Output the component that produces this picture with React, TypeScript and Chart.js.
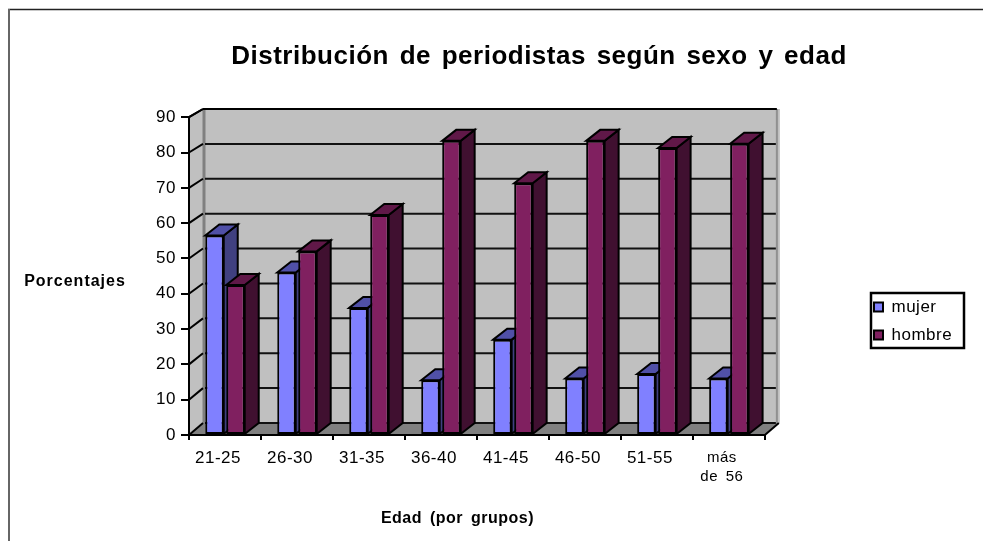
import React, { useEffect, useRef } from "react";
import { Chart, registerables } from "chart.js";

Chart.register(...registerables);

const categories: (string | string[])[] = ["21-25", "26-30", "31-35", "36-40", "41-45", "46-50", "51-55", ["más", "de 56"]];
const mujer = [56.5, 46, 36, 15.5, 27, 16, 17.3, 16];
const hombre = [42.5, 52, 62.3, 83.3, 71.3, 83.3, 81.3, 82.5];
const yTicks = [0, 10, 20, 30, 40, 50, 60, 70, 80, 90];
const titleText = "Distribución de periodistas según sexo y edad";
const xTitleText = "Edad (por grupos)";
const yTitleText = "Porcentajes";

const FONT = "'Liberation Sans', Arial, sans-serif";
const W = 983;
const H = 541;
const WALL_DX = 14;
const BAR_DX = 14;
const BAR_DY = 11;

const faces = [
  { top: "#5050A8", side: "#404080" },
  { top: "#601848", side: "#401030" },
];

function poly(ctx: CanvasRenderingContext2D, pts: number[][], fill?: string, stroke?: string, lw = 2) {
  ctx.beginPath();
  pts.forEach((p, i) => (i ? ctx.lineTo(p[0], p[1]) : ctx.moveTo(p[0], p[1])));
  ctx.closePath();
  if (fill) {
    ctx.fillStyle = fill;
    ctx.fill();
  }
  if (stroke) {
    ctx.strokeStyle = stroke;
    ctx.lineWidth = lw;
    ctx.lineJoin = "miter";
    ctx.stroke();
  }
}

function line(ctx: CanvasRenderingContext2D, x1: number, y1: number, x2: number, y2: number, c: string, lw: number) {
  ctx.beginPath();
  ctx.moveTo(x1, y1);
  ctx.lineTo(x2, y2);
  ctx.strokeStyle = c;
  ctx.lineWidth = lw;
  ctx.stroke();
}

const chart3d = {
  id: "chart3d",
  afterUpdate(chart: any) {
    const lg = chart.legend;
    if (lg) {
      lg.left = 863;
      lg.right = 964;
      lg.top = 287.5;
      lg.bottom = 400;
    }
    if (chart.titleBlock) {
      chart.titleBlock.left = 95;
      chart.titleBlock.right = 983;
    }
  },
  beforeDraw(chart: any) {
    const ctx: CanvasRenderingContext2D = chart.ctx;
    (ctx as any).letterSpacing = "0.5px";
    (ctx as any).wordSpacing = "3px";
    ctx.save();
    ctx.fillStyle = "#fff";
    ctx.fillRect(0, 0, W, H);
    line(ctx, 8, 9.5, 983, 9.5, "#222", 1.5);
    line(ctx, 9, 9, 9, H, "#666", 2);

    const { left, right, top, bottom } = chart.chartArea;
    const backY = (py: number) => 109 + ((py - top) * 314) / (bottom - top);
    const bl = left + WALL_DX;
    const br = right + WALL_DX - 2;

    poly(ctx, [[bl, 109], [br + 3, 109], [br + 3, backY(bottom)], [bl, backY(bottom)]], "#C0C0C0");
    line(ctx, br, 109, br, backY(bottom), "#909090", 2);
    poly(ctx, [[left, top], [bl, 109], [bl, backY(bottom)], [left, bottom]], "#C0C0C0");
    line(ctx, bl + 1, 110, bl + 1, backY(bottom), "#808080", 3);
    poly(ctx, [[left, bottom], [right, bottom], [right + WALL_DX, backY(bottom)], [bl, backY(bottom)]], "#808080");
    line(ctx, right, bottom, right + WALL_DX, backY(bottom), "#000", 2);
    line(ctx, left, top, bl, 109, "#000", 2);
    line(ctx, bl, 109, br, 109, "#000", 2);

    const ys = chart.scales.y;
    ys.ticks.forEach((t: any) => {
      const py = ys.getPixelForValue(t.value);
      const by = backY(py);
      line(ctx, left, py, bl, by, "#000", 2);
      if (t.value < 90) line(ctx, bl + 2, by, br - 1, by, "#111", 2);
    });
    ctx.restore();

    ctx.save();
    ctx.fillStyle = "#000";
    ctx.textAlign = "center";
    ctx.textBaseline = "middle";
    ctx.font = `bold 16px ${FONT}`;
    (ctx as any).letterSpacing = "1px";
    ctx.fillText(yTitleText, 75, 282);
    (ctx as any).letterSpacing = "0.5px";
    ctx.fillText(xTitleText, 457.5, 519);
    ctx.restore();
    (ctx as any).letterSpacing = "0.5px";
  },
  beforeDatasetsDraw(chart: any) {
    const ctx: CanvasRenderingContext2D = chart.ctx;
    ctx.save();
    chart.data.datasets.forEach((_: any, di: number) => {
      chart.getDatasetMeta(di).data.forEach((bar: any) => {
        const w = bar.width;
        const l = bar.x - w / 2;
        const r = bar.x + w / 2;
        const t = bar.y;
        const b = bar.base;
        poly(ctx, [[r, t], [r + BAR_DX, t - BAR_DY], [r + BAR_DX, b - BAR_DY], [r, b]], faces[di].side, "#000");
        poly(ctx, [[l, t], [l + BAR_DX, t - BAR_DY], [r + BAR_DX, t - BAR_DY], [r, t]], faces[di].top, "#000");
      });
    });
    ctx.restore();
  },
  afterDraw(chart: any) {
    const ctx: CanvasRenderingContext2D = chart.ctx;
    ctx.save();
    ctx.strokeStyle = "#000";
    ctx.lineWidth = 2.5;
    ctx.strokeRect(871, 293, 93, 55);
    ctx.restore();
  },
};

export default function App() {
  const ref = useRef<HTMLCanvasElement | null>(null);
  useEffect(() => {
    if (!ref.current) return;
    const chart = new Chart(ref.current, {
      type: "bar",
      data: {
        labels: categories as any,
        datasets: [
          { label: "mujer", data: mujer, backgroundColor: "#8080FF", borderColor: "#000", borderWidth: 2, borderSkipped: false },
          { label: "hombre", data: hombre, backgroundColor: "#802060", borderColor: "#000", borderWidth: 2, borderSkipped: false },
        ],
      },
      options: {
        animation: false,
        responsive: false,
        devicePixelRatio: 1,
        layout: { padding: { left: 0, right: 122, top: 0, bottom: 10 } },
        datasets: { bar: { categoryPercentage: 0.583, barPercentage: 0.88 } },
        plugins: {
          tooltip: { enabled: false },
          title: {
            display: true,
            text: titleText,
            font: { family: FONT, size: 26, weight: "bold" },
            color: "#000",
            padding: { top: 41, bottom: 45 },
          },
          legend: {
            position: "right",
            align: "start",
            labels: {
              boxWidth: 9,
              boxHeight: 9,
              padding: 11,
              color: "#000",
              font: { family: FONT, size: 17 },
            },
          },
        },
        scales: {
          x: {
            afterFit: (s: any) => { s.height = 96; },
            grid: { display: true, drawOnChartArea: false, offset: true, color: "#000", lineWidth: 2, tickLength: 5 },
            border: { color: "#000", width: 2 },
            ticks: {
              color: "#000",
              maxRotation: 0,
              autoSkip: false,
              padding: 8,
              labelOffset: -7,
              font: (c: any) => (c.index === 7 ? { family: FONT, size: 15, lineHeight: 1.27 } : { family: FONT, size: 17 }),
            },
          },
          y: {
            min: 0,
            max: 90,
            afterFit: (s: any) => { s.width = 189; },
            afterBuildTicks: (s: any) => { s.ticks = yTicks.map((value) => ({ value })); },
            grid: { display: true, drawOnChartArea: false, color: "#000", lineWidth: 2, tickLength: 8 },
            border: { color: "#000", width: 2 },
            ticks: { color: "#000", padding: 5, font: { family: FONT, size: 17 } },
          },
        },
      },
      plugins: [chart3d],
    } as any);
    return () => chart.destroy();
  }, []);
  return (
    <div style={{ position: "fixed", left: 0, top: 0, width: W, height: H }}>
      <canvas ref={ref} width={W} height={H} style={{ display: "block" }} />
    </div>
  );
}
